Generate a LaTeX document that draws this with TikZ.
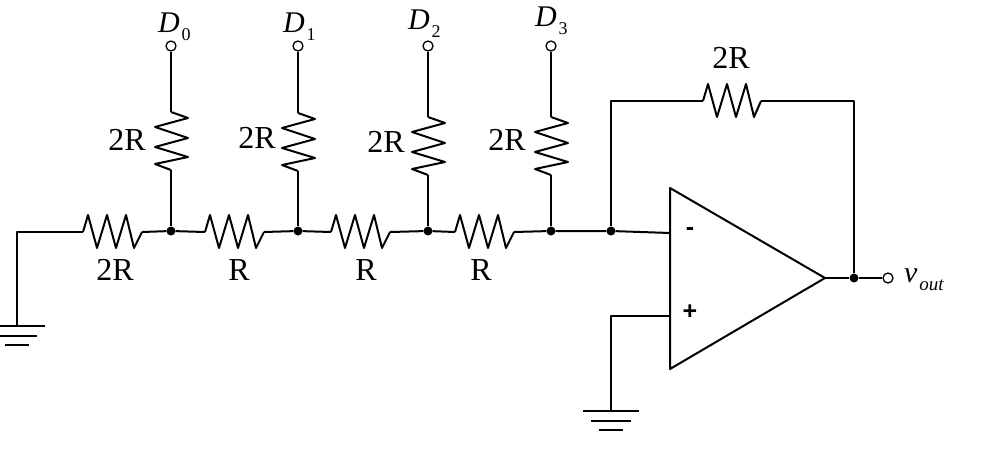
\documentclass[tikz,border=0pt]{standalone}
\usepackage{fontspec}
\setmainfont{Liberation Serif}
\newfontfamily\signfont{Liberation Sans}
\tikzset{
	wire/.style={line width=2pt,line join=round},
	junction/.style={circle,fill=black,inner sep=0,minimum size=9pt},
	terminal/.style={circle,draw,fill=white,line width=1.3pt,inner sep=0,minimum size=10pt},
	value/.style={inner sep=0,outer sep=0,anchor=base,font=\fontsize{32pt}{32pt}\selectfont},
	source/.style={inner sep=0,outer sep=0,anchor=base west,font=\fontsize{30pt}{30pt}\selectfont\itshape},
	sign/.style={inner sep=0,outer sep=0,font=\fontsize{25pt}{25pt}\signfont\bfseries}
}
\newcommand{\subtext}[2][18pt]{\kern2pt\raisebox{-8pt}{\fontsize{#1}{#1}\selectfont #2}}
% zigzags run between two named ends
\newcommand{\hzigzag}[2]{\draw[wire] (#1) -- ++(5,-17) -- ++(9,33) -- ++(10,-33) -- ++(9,33) -- ++(10,-33) -- ++(8,33) -- (#2);}
\newcommand{\vzigzag}[2]{\draw[wire] (#1) -- ++(17,6) -- ++(-33,9) -- ++(33,11) -- ++(-33,9) -- ++(33,10) -- ++(-33,7) -- (#2);}
\newcommand{\groundbars}[1]{
	\draw[wire] ([xshift=-28pt]#1) -- ([xshift=28pt]#1);
	\draw[wire] ([xshift=-20pt,yshift=-10pt]#1) -- ([xshift=20pt,yshift=-10pt]#1);
	\draw[wire] ([xshift=-12pt,yshift=-19pt]#1) -- ([xshift=12pt,yshift=-19pt]#1);
}
\begin{document}
\begin{tikzpicture}[x=1pt,y=-1pt]
	\useasboundingbox (0,0) rectangle (999,452);
	% junctions along the ladder
	\node[junction] (nodeA) at (171,231) {};
	\node[junction] (nodeB) at (298,231) {};
	\node[junction] (nodeC) at (428,231) {};
	\node[junction] (nodeD) at (551,231) {};
	\node[junction] (nodeE) at (611,231) {};
	\node[junction] (nodeF) at (854,278) {};
	% inputs and output
	\node[terminal] (inA) at (171,46) {};
	\node[terminal] (inB) at (298,46) {};
	\node[terminal] (inC) at (428,46) {};
	\node[terminal] (inD) at (551,46) {};
	\node[terminal] (outV) at (888,278) {};
	% ladder
	\coordinate (corner) at (17,232);
	\coordinate (gndL) at (17,326);
	\coordinate (r1a) at (83,232);
	\coordinate (r1b) at (142,232);
	\coordinate (r2a) at (205,232);
	\coordinate (r2b) at (264,232);
	\coordinate (r3a) at (331,232);
	\coordinate (r3b) at (390,232);
	\coordinate (r4a) at (455,232);
	\coordinate (r4b) at (514,232);
	\draw[wire] (gndL) -- (corner) -- (r1a);
	\hzigzag{r1a}{r1b}
	\draw[wire] (r1b) -- (nodeA) -- (r2a);
	\hzigzag{r2a}{r2b}
	\draw[wire] (r2b) -- (nodeB) -- (r3a);
	\hzigzag{r3a}{r3b}
	\draw[wire] (r3b) -- (nodeC) -- (r4a);
	\hzigzag{r4a}{r4b}
	\draw[wire] (r4b) -- (nodeD) -- (nodeE);
	\groundbars{gndL}
	% legs
	\coordinate (v1a) at (171,112);
	\coordinate (v1b) at (171,170);
	\coordinate (v2a) at (298,113);
	\coordinate (v2b) at (298,171);
	\coordinate (v3a) at (428,117);
	\coordinate (v3b) at (428,175);
	\coordinate (v4a) at (551,117);
	\coordinate (v4b) at (551,175);
	\draw[wire] (inA) -- (v1a);
	\vzigzag{v1a}{v1b}
	\draw[wire] (v1b) -- (nodeA);
	\draw[wire] (inB) -- (v2a);
	\vzigzag{v2a}{v2b}
	\draw[wire] (v2b) -- (nodeB);
	\draw[wire] (inC) -- (v3a);
	\vzigzag{v3a}{v3b}
	\draw[wire] (v3b) -- (nodeC);
	\draw[wire] (inD) -- (v4a);
	\vzigzag{v4a}{v4b}
	\draw[wire] (v4b) -- (nodeD);
	% amplifier
	\coordinate (ampTop) at (670,188);
	\coordinate (ampBot) at (670,369);
	\coordinate (ampOut) at (825,278);
	\coordinate (ampMinus) at (670,233);
	\coordinate (ampPlus) at (670,316);
	\coordinate (plusTurn) at (611,316);
	\coordinate (gndR) at (611,411);
	\draw[wire] (ampTop) -- (ampOut) -- (ampBot) -- cycle;
	\draw[wire] (nodeE) -- (ampMinus);
	\draw[wire] (ampPlus) -- (plusTurn) -- (gndR);
	\groundbars{gndR}
	\draw[wire] (ampOut) -- (nodeF) -- (outV);
	% feedback
	\coordinate (fbLeft) at (611,101);
	\coordinate (fbRight) at (854,101);
	\coordinate (r5a) at (703,101);
	\coordinate (r5b) at (761,101);
	\draw[wire] (nodeE) -- (fbLeft) -- (r5a);
	\hzigzag{r5a}{r5b}
	\draw[wire] (r5b) -- (fbRight) -- (nodeF);
	% labels
	\node[source] (labA) at (158,33) {D\subtext{\upshape 0}};
	\node[source] (labB) at (283,33) {D\subtext{\upshape 1}};
	\node[source] (labC) at (408,30) {D\subtext{\upshape 2}};
	\node[source] (labD) at (535,27) {D\subtext{\upshape 3}};
	\node[source] (labV) at (904,282) {v\subtext[19pt]{out}};
	\node[value] (valA) at (127,150) {2R};
	\node[value] (valB) at (257,148) {2R};
	\node[value] (valC) at (386,152) {2R};
	\node[value] (valD) at (507,150) {2R};
	\node[value] (valE) at (115,280) {2R};
	\node[value] (valF) at (239,280) {R};
	\node[value] (valG) at (366,280) {R};
	\node[value] (valH) at (481,280) {R};
	\node[value] (valI) at (731,69) {2R};
	\node[sign] (signM) at (690,232) {-};
	\node[sign] (signP) at (690,312) {+};
\end{tikzpicture}
\end{document}
